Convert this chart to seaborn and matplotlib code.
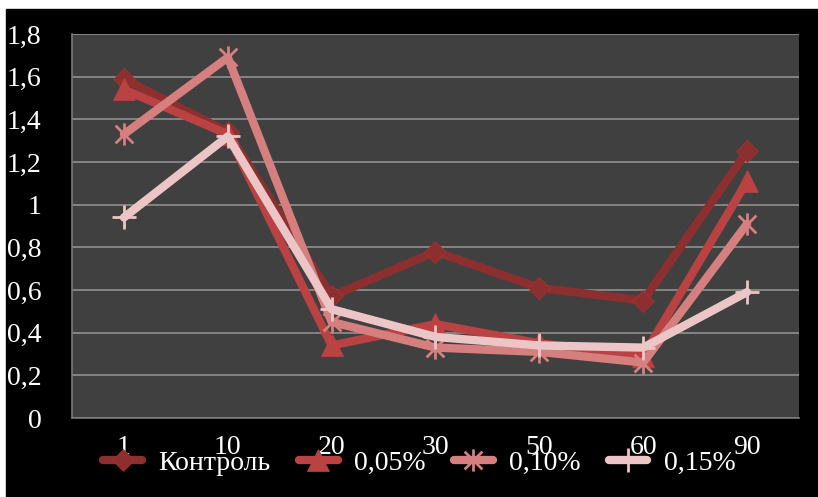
import matplotlib
matplotlib.use("Agg")
import matplotlib.pyplot as plt
import matplotlib.patches as mpatches
from matplotlib.path import Path
import seaborn as sns
import pandas as pd

categories = ["1", "10", "20", "30", "50", "60", "90"]
control = [1.59, 1.34, 0.57, 0.78, 0.61, 0.55, 1.25]
p005 = [1.54, 1.33, 0.34, 0.44, 0.35, 0.29, 1.11]
p010 = [1.33, 1.69, 0.45, 0.33, 0.31, 0.26, 0.91]
p015 = [0.94, 1.32, 0.51, 0.38, 0.34, 0.33, 0.59]
series_names = ["Контроль", "0,05%", "0,10%", "0,15%"]
y_ticks = [0, 0.2, 0.4, 0.6, 0.8, 1.0, 1.2, 1.4, 1.6, 1.8]
y_tick_labels = ["0", "0,2", "0,4", "0,6", "0,8", "1", "1,2", "1,4", "1,6", "1,8"]

sns.set_theme(style="dark")
plt.rcParams["font.family"] = "serif"
plt.rcParams["font.serif"] = ["Liberation Serif", "DejaVu Serif"]
SERIF = ["Liberation Serif", "DejaVu Serif"]

star = Path([(0, -1), (0, 1), (-0.8, -0.8), (0.8, 0.8), (-0.8, 0.8), (0.8, -0.8)],
            [Path.MOVETO, Path.LINETO, Path.MOVETO, Path.LINETO, Path.MOVETO, Path.LINETO])

styles = [
    dict(color="#8e2f2f", marker="D", ms=11, mec="#a83232", mew=0.5),
    dict(color="#bb4242", marker="^", ms=16, mec="#c04040", mew=0.5),
    dict(color="#d67f7f", marker=star, ms=16, mec="#d67f7f", mew=2),
    dict(color="#ecc6c6", marker="+", ms=17, mec="#ecc6c6", mew=2),
]

fig = plt.figure(figsize=(8.18, 4.97), dpi=100, facecolor="white")
fig.patches.append(mpatches.Rectangle((6 / 818, 0), 1, 1 - 9 / 497,
                                      transform=fig.transFigure, color="black", zorder=-10))
ax = fig.add_axes([72 / 818, (497 - 418) / 497, (799 - 72) / 818, (418 - 34) / 497])
ax.set_facecolor("#404040")

for name, vals, st in zip(series_names, [control, p005, p010, p015], styles):
    df = pd.DataFrame({"x": categories, "y": vals})
    sns.lineplot(data=df, x="x", y="y", ax=ax, sort=False, label=name,
                 color=st["color"], lw=6, marker=st["marker"], markersize=st["ms"],
                 markeredgecolor=st["mec"], markerfacecolor=st["color"],
                 markeredgewidth=st["mew"], solid_capstyle="round")

ax.set_ylim(0, 1.8)
ax.set_xlim(-0.5, 6.5)
ax.set_yticks(y_ticks)
ax.set_yticklabels(y_tick_labels)
ax.set_xlabel("")
ax.set_ylabel("")
ax.grid(axis="y", color="#8a8a8a", lw=1.3)
ax.grid(axis="x", visible=False)
ax.set_axisbelow(True)
for s in ax.spines.values():
    s.set_visible(True)
    s.set_color("#7a7a7a")
    s.set_linewidth(1.2)
ax.spines["top"].set_visible(False)
ax.spines["right"].set_visible(False)
ax.tick_params(axis="y", colors="white", labelsize=20, pad=22, length=0)
ax.tick_params(axis="x", colors="white", labelsize=20, pad=12, length=0)
for lab in ax.get_xticklabels() + ax.get_yticklabels():
    lab.set_color("white")
    lab.set_fontfamily(SERIF)

leg = ax.legend(loc="center", bbox_to_anchor=(0.478, -0.118), ncol=4, frameon=False,
                prop={"family": SERIF, "size": 20}, handlelength=1.4,
                columnspacing=1.0, handletextpad=0.6,
                labelcolor="white", borderaxespad=0)

fig.savefig("out.png", dpi=100, facecolor="white")
